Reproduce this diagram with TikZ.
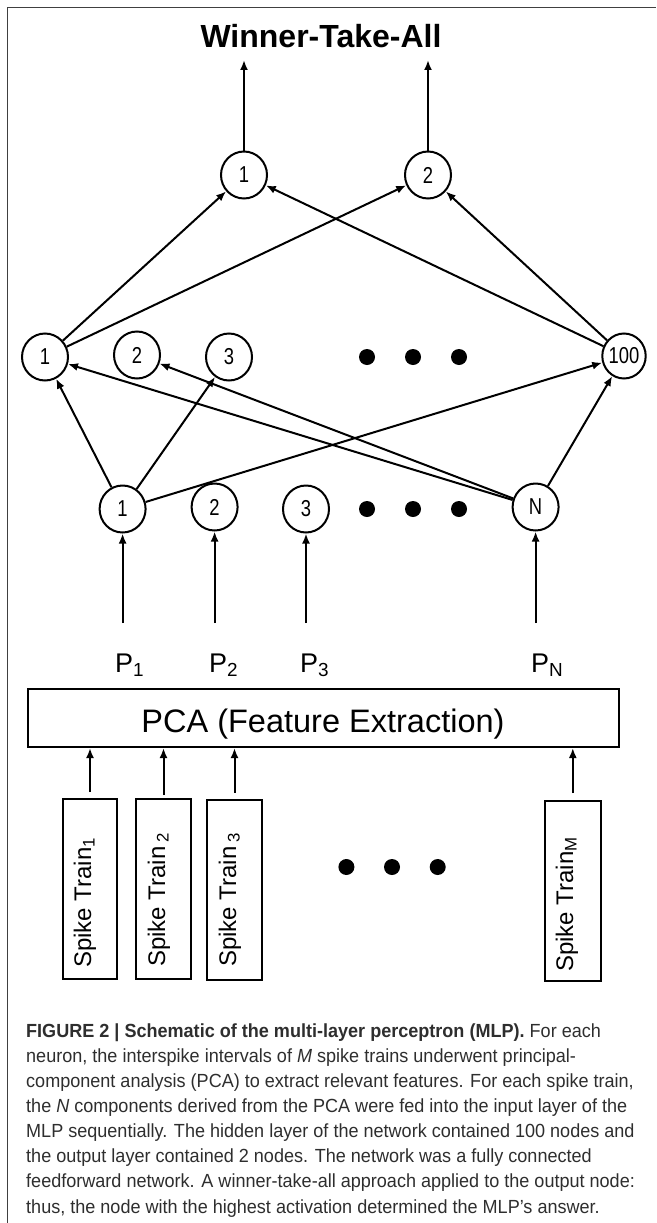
\documentclass[tikz,border=0pt]{standalone}
\usepackage{fontspec}
\setmainfont{Liberation Sans}
\newfontfamily\diagfont{Liberation Sans}
\newfontfamily\narrowfont[FakeStretch=0.8]{Liberation Sans}
\newfontfamily\capfont[FakeStretch=0.95]{Liberation Sans}
\usetikzlibrary{shapes.geometric,arrows.meta}
\begin{document}
\begin{tikzpicture}[x=1pt,y=-1pt,
  neuron/.style={ellipse,draw,line width=2pt,minimum width=46pt,minimum height=47pt,inner sep=0pt,font=\narrowfont\fontsize{23}{23}\selectfont},
  dotnode/.style={circle,fill,minimum size=16pt,inner sep=0pt},
  link/.style={line width=2pt,-{Latex[length=10pt,width=8pt]}},
  trainbox/.style={draw,line width=2pt,inner sep=0pt,minimum width=55pt,minimum height=180pt},
  traintext/.style={inner sep=0pt,rotate=90,anchor=base west,font=\diagfont\fontsize{24}{24}\selectfont},
  plabel/.style={inner sep=0pt,anchor=base west,font=\diagfont\fontsize{27}{27}\selectfont},
  capline/.style={inner sep=0pt,anchor=base west,text=black!82,font=\capfont\fontsize{19}{19}\selectfont},
  frame/.style={draw=black!75,line width=1.4pt}
]
\useasboundingbox (0,0) rectangle (656,1223);
\draw[frame] (7.5,1223) -- (7.5,7.5) -- (656,7.5);

% title
\node[inner sep=0pt,anchor=base,font=\diagfont\bfseries\fontsize{32}{32}\selectfont] (title) at (321,48) {Winner-Take-All};

% output layer
\node[neuron] (o1) at (244,175) {1};
\node[neuron] (o2) at (428,175) {2};
\coordinate (w1) at (244,60);
\coordinate (w2) at (428,60);
\draw[link] (o1) -- (w1);
\draw[link] (o2) -- (w2);

% hidden layer
\node[neuron] (h1) at (45,357) {1};
\node[neuron] (h2) at (137,355) {2};
\node[neuron] (h3) at (229,357) {3};
\node[dotnode] (hd1) at (367,357) {};
\node[dotnode] (hd2) at (413,357) {};
\node[dotnode] (hd3) at (459,357) {};
\node[neuron,minimum width=38pt,minimum height=45pt] (h100) at (624,356) {100};

% input layer
\node[neuron] (i1) at (122.6,509) {1};
\node[neuron] (i2) at (214.6,507) {2};
\node[neuron] (i3) at (306,509) {3};
\node[dotnode] (id1) at (367,509) {};
\node[dotnode] (id2) at (413,509) {};
\node[dotnode] (id3) at (459,509) {};
\node[neuron] (iN) at (535.6,507) {N};

% hidden -> output
\draw[link] (h1) -- (o1);
\draw[link] (h1) -- (o2);
\draw[link] (h100) -- (o1);
\draw[link] (h100) -- (o2);

% input -> hidden
\draw[link] (i1) -- (h1);
\draw[link] (i1) -- (h3);
\draw[link] (i1) -- (h100);
\draw[link] (iN) -- (h1);
\draw[link] (iN) -- (h2);
\draw[link] (iN) -- (h100);

% inputs
\coordinate (q1) at (122.6,623);
\coordinate (q2) at (214.6,623);
\coordinate (q3) at (306,623);
\coordinate (qN) at (535.6,623);
\draw[link] (q1) -- (i1);
\draw[link] (q2) -- (i2);
\draw[link] (q3) -- (i3);
\draw[link] (qN) -- (iN);

% P labels
\node[plabel] (p1) at (115,672) {P\textsubscript{1}};
\node[plabel] (p2) at (209,672) {P\textsubscript{2}};
\node[plabel] (p3) at (300,672) {P\textsubscript{3}};
\node[plabel] (pN) at (531,672) {P\textsubscript{N}};

% PCA box
\node[draw,line width=2pt,minimum width=591pt,minimum height=58pt,inner sep=0pt] (pca) at (323.5,718) {};
\node[inner sep=0pt,anchor=base,font=\diagfont\fontsize{32.5}{32.5}\selectfont] (pcat) at (323,732) {PCA (Feature Extraction)};

% spike trains
\node[trainbox,minimum width=54pt] (s1) at (90,889) {};
\node[trainbox] (s2) at (163.5,889) {};
\node[trainbox,minimum width=55.6pt] (s3) at (234.5,889.5) {};
\node[trainbox,minimum width=56pt] (sM) at (572.8,891) {};
\node[traintext] (t1) at (91,968) {Spike Train\textsubscript{1}};
\node[traintext] (t2) at (165,967) {Spike Train\,\textsubscript{2}};
\node[traintext] (t3) at (236,967) {Spike Train\,\textsubscript{3}};
\node[traintext] (tM) at (573,972) {Spike Train\textsubscript{M}};
\node[dotnode] (sd1) at (346.4,867) {};
\node[dotnode] (sd2) at (392,867) {};
\node[dotnode] (sd3) at (437.7,867) {};

\draw[link] ([yshift=6pt]s1.north) -- (s1.north |- pca.south);
\draw[link] ([yshift=3pt]s2.north) -- (s2.north |- pca.south);
\draw[link] ([yshift=6pt]s3.north) -- (s3.north |- pca.south);
\draw[link] ([yshift=7pt]sM.north) -- (sM.north |- pca.south);

% caption
\node[capline] (c1) at (26,1037) {\textbf{FIGURE 2 | Schematic of the multi-layer perceptron (MLP).} For each};
\node[capline] (c2) at (26,1062) {neuron, the interspike intervals of \textit{M} spike trains underwent principal-};
\node[capline] (c3) at (26,1087) {component analysis (PCA) to extract relevant features. For each spike train,};
\node[capline] (c4) at (26,1112) {the \textit{N} components derived from the PCA were fed into the input layer of the};
\node[capline] (c5) at (26,1137) {MLP sequentially. The hidden layer of the network contained 100 nodes and};
\node[capline] (c6) at (26,1162) {the output layer contained 2 nodes. The network was a fully connected};
\node[capline] (c7) at (26,1187) {feedforward network. A winner-take-all approach applied to the output node:};
\node[capline] (c8) at (26,1213) {thus, the node with the highest activation determined the MLP’s answer.};
\end{tikzpicture}
\end{document}
